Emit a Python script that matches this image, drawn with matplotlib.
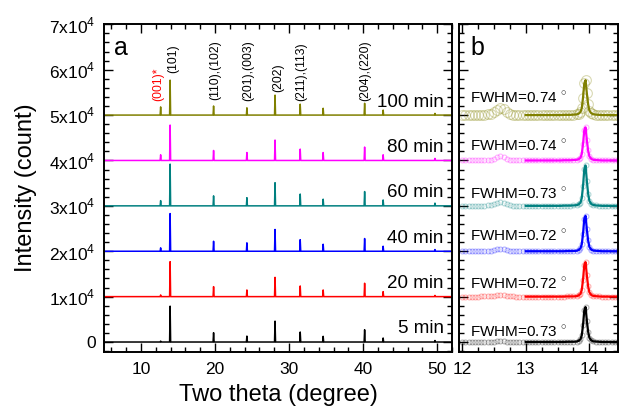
import numpy as np
import matplotlib
matplotlib.use('Agg')
import matplotlib.pyplot as plt
from matplotlib.ticker import MultipleLocator

plt.rcParams['font.family'] = ['Liberation Sans', 'DejaVu Sans']
plt.rcParams['mathtext.fontset'] = 'custom'
plt.rcParams['mathtext.rm'] = 'Liberation Sans'

# series (bottom to top)
times = ['5 min', '20 min', '40 min', '60 min', '80 min', '100 min']
colors = ['#000000', '#ff0000', '#0000ff', '#008080', '#ff00ff', '#808000']
offsets = [0, 10000, 20000, 30000, 40000, 50000]
fwhm = ['0.73', '0.72', '0.72', '0.73', '0.74', '0.74']

# panel a: peak positions (two theta) and heights above each baseline
peak_pos = [12.65, 13.93, 19.8, 24.3, 28.1, 31.5, 34.6, 40.2, 42.7, 49.7]
h_5 = [200, 7900, 2050, 1300, 4600, 2200, 1250, 2700, 880, 330]
h_20 = [370, 7700, 2200, 1470, 4250, 2350, 1470, 2950, 1100, 260]
h_40 = [750, 8300, 2200, 1850, 4800, 2550, 1540, 2800, 1100, 370]
h_60 = [1150, 9200, 2200, 1800, 5100, 2600, 1470, 3150, 1300, 600]
h_80 = [1250, 7800, 2200, 1750, 4500, 2500, 1750, 2950, 1250, 450]
h_100 = [1800, 7700, 2000, 1600, 4400, 2400, 1500, 2600, 1100, 370]
heights = [h_5, h_20, h_40, h_60, h_80, h_100]

hkl = ['(001)*', '(101)', '(110),(102)', '(201),(003)', '(202)', '(211),(113)', '(204),(220)']
hkl_x = [12.3, 14.3, 20.0, 24.5, 28.5, 31.6, 40.3]
hkl_y = [53000, 59200, 53400, 53200, 55000, 53200, 53200]

# panel b: measured points near the (001)* and (101) peaks
bx = [12.00, 12.05, 12.10, 12.15, 12.20, 12.25, 12.30, 12.35, 12.40, 12.45,
      12.50, 12.55, 12.60, 12.65, 12.70, 12.75, 12.80, 12.85, 12.90, 12.95,
      13.00, 13.05, 13.10, 13.15, 13.20, 13.25, 13.30, 13.35, 13.40, 13.45,
      13.50, 13.55, 13.60, 13.65, 13.70, 13.75, 13.80,
      13.83, 13.86, 13.88, 13.90, 13.92, 13.94, 13.96, 13.98, 14.00, 14.03, 14.06,
      14.10, 14.15, 14.20, 14.25, 14.30, 14.35, 14.40, 14.45]
b_5 = [0, 0, 0, 0, 0, 0, 0, 50, 50, 100,
       100, 150, 150, 150, 100, 50, 0, 0, 0, 0,
       0, 0, 0, 0, 0, 0, 0, 0, 0, 0,
       0, 0, 0, 50, 50, 50, 100,
       250, 600, 1450, 3700, 7000, 7700, 4700, 2300, 950, 350, 150,
       100, 50, 0, 0, 0, 0, 0, 0]
b_20 = [0, 0, 0, 0, 0, 0, 50, 50, 100, 150,
        200, 250, 250, 250, 200, 100, 50, 0, 0, 0,
        0, 0, 0, 0, 0, 0, 0, 0, 0, 0,
        0, 0, 0, 50, 50, 50, 100,
        250, 600, 1450, 3700, 7000, 7600, 4700, 2300, 950, 350, 150,
        100, 50, 0, 0, 0, 0, 0, 0]
b_40 = [0, 0, 0, 0, 0, 0, 50, 50, 100, 150,
        250, 400, 450, 400, 250, 100, 50, 0, 0, 0,
        0, 0, 0, 0, 0, 0, 0, 0, 0, 0,
        0, 0, 0, 50, 50, 50, 100,
        250, 650, 1500, 3800, 7200, 7800, 4800, 2400, 950, 350, 150,
        100, 50, 0, 0, 0, 0, 0, 0]
b_60 = [0, 0, 0, 0, 0, 0, 50, 50, 100, 200,
        350, 650, 800, 700, 400, 150, 50, 0, 0, 0,
        0, 0, 0, 0, 0, 0, 0, 0, 0, 0,
        0, 0, 50, 50, 50, 100, 150,
        300, 700, 1700, 4300, 8100, 8900, 5500, 2700, 1100, 400, 200,
        100, 50, 0, 0, 0, 0, 0, 0]
b_80 = [0, 0, 0, 0, 0, 0, 50, 50, 100, 200,
        350, 700, 900, 750, 400, 150, 50, 0, 0, 0,
        0, 0, 0, 0, 0, 0, 0, 0, 0, 0,
        0, 0, 50, 50, 50, 100, 150,
        250, 600, 1400, 3600, 6700, 7300, 4500, 2200, 900, 350, 150,
        100, 50, 0, 0, 0, 0, 0, 0]
b_100 = [0, 0, 0, 0, 0, 50, 50, 100, 150, 300,
         600, 1100, 1500, 1250, 650, 250, 100, 50, 0, 0,
         0, 0, 0, 0, 0, 0, 0, 0, 0, 0,
         0, 0, 50, 50, 50, 100, 150,
         300, 700, 1500, 3800, 7000, 7700, 4800, 2400, 1000, 400, 200,
         100, 50, 0, 0, 0, 0, 0, 0]
b_data = [b_5, b_20, b_40, b_60, b_80, b_100]
fwhm_y = [1000, 1700, 2300, 1500, 2000, 2600]

W, H = 619, 407
fig = plt.figure(figsize=(W / 100, H / 100), dpi=100)
ax = fig.add_axes([104 / W, 55 / H, 348 / W, 327.7 / H])
bx_ax = fig.add_axes([459 / W, 55 / H, 159 / W, 327.7 / H])

# panel a: stick-like pattern with narrow peaks
w = 0.07
for hs, off, c in zip(heights, offsets, colors):
    xs, ys = [5], [off]
    for p, h in zip(peak_pos, hs):
        xs += [p - w, p, p + w]
        ys += [off, off + h, off]
    xs.append(52)
    ys.append(off)
    ax.plot(xs, ys, color=c, lw=1.1)

for t, off in zip(times, offsets):
    ax.text(50.9, off + 1000, t, ha='right', va='bottom', fontsize=13.5)

for lab, x, y in zip(hkl, hkl_x, hkl_y):
    ax.text(x, y, lab, rotation=90, ha='center', va='bottom', fontsize=8.8,
            color='red' if lab.endswith('*') else 'black')

ax.text(0.03, 0.905, 'a', transform=ax.transAxes, fontsize=18)

ax.set_xlim(5, 52)
ax.set_ylim(-2200, 70000)
ax.xaxis.set_major_locator(MultipleLocator(10))
ax.xaxis.set_minor_locator(MultipleLocator(2))
ax.yaxis.set_major_locator(MultipleLocator(10000))
ax.yaxis.set_minor_locator(MultipleLocator(2000))
ax.set_yticks(offsets + [60000, 70000])
ax.set_yticklabels(['0'] + [r'%dx10$^{4}$' % i for i in range(1, 8)])
ax.set_xticks([10, 20, 30, 40, 50])
ax.set_xlabel('Two theta (degree)', fontsize=17, labelpad=5)
ax.set_ylabel('Intensity (count)', fontsize=17, labelpad=9)

# panel b: zoomed measured points with fitted peak line from 13 deg on
bxa = np.array(bx)
sel = bxa >= 13.0
for i, (bd, off, c, f) in enumerate(zip(b_data, offsets, colors, fwhm)):
    y = np.array(bd) + off
    ms = 7 if i == 5 else 3.5
    bx_ax.plot(bxa, y, 'o', mfc='none', mec=c, ms=ms, mew=0.8, alpha=0.3)
    bx_ax.plot(bxa[sel], y[sel], color=c, lw=1.6)
    bx_ax.text(12.12, off + fwhm_y[i], 'FWHM=%s $^{\\circ}$' % f,
               fontsize=11, va='baseline')

bx_ax.text(0.075, 0.905, 'b', transform=bx_ax.transAxes, fontsize=18)
bx_ax.set_xlim(11.95, 14.45)
bx_ax.set_ylim(-2200, 70000)
bx_ax.xaxis.set_major_locator(MultipleLocator(1))
bx_ax.xaxis.set_minor_locator(MultipleLocator(0.25))
bx_ax.yaxis.set_major_locator(MultipleLocator(10000))
bx_ax.yaxis.set_minor_locator(MultipleLocator(2000))
bx_ax.set_yticklabels([])

for a in (ax, bx_ax):
    a.tick_params(which='both', direction='in', top=True, right=True,
                  labelsize=12.5, width=1)
    a.tick_params(which='major', length=6.5, pad=7)
    a.tick_params(which='minor', length=3.5)
    a.tick_params(axis='y', pad=6)
    for s in a.spines.values():
        s.set_linewidth(1.4)

fig.savefig('out.png', dpi=100)
